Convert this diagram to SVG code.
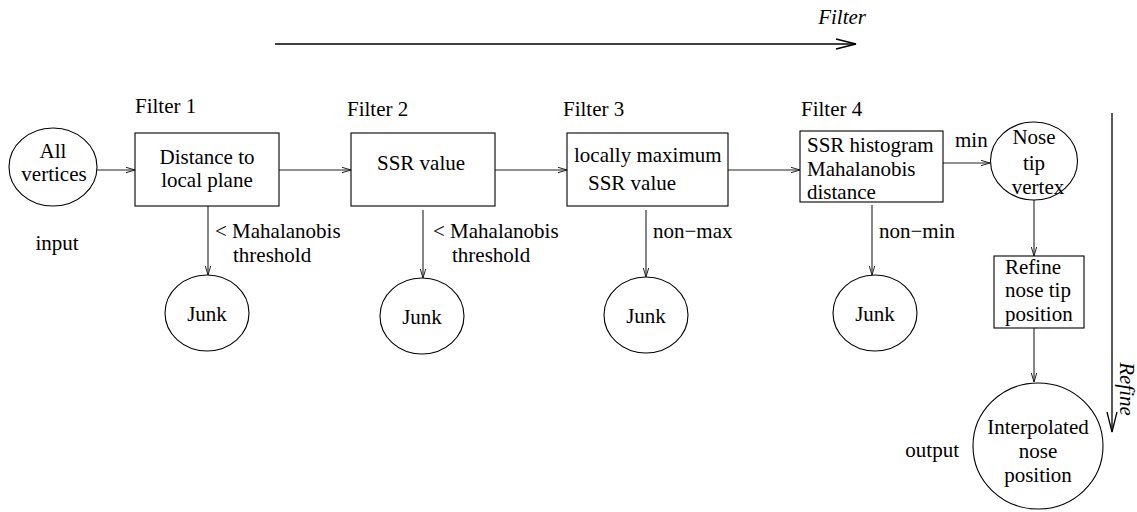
<svg xmlns="http://www.w3.org/2000/svg" width="1137" height="512" viewBox="0 0 1137 512" font-family="'Liberation Serif', 'DejaVu Serif', serif">
<style>
text{font-family:'Liberation Serif','DejaVu Serif','Times New Roman',serif;font-size:21px;fill:#000}
.c{text-anchor:middle}
.it{font-style:italic}
.shape{fill:#fff;stroke:#000;stroke-width:1.1}
.ln{fill:none;stroke:#222;stroke-width:1.1;marker-end:url(#a)}
.big{fill:none;stroke:#000;stroke-width:1.3;marker-end:url(#b)}
</style>
<defs>
<marker id="a" markerUnits="userSpaceOnUse" markerWidth="12" markerHeight="8" refX="10" refY="4" orient="auto"><path d="M1,1.3 L10,4 L1,6.7" fill="none" stroke="#222" stroke-width="1"/></marker>
<marker id="b" markerUnits="userSpaceOnUse" markerWidth="24" markerHeight="14" refX="22" refY="7" orient="auto"><path d="M2,2 L22,7 L2,12" fill="none" stroke="#000" stroke-width="1.3"/></marker>
</defs>
<rect width="1137" height="512" fill="#fff"/>

<g id="connectors">
<line class="big" x1="275" y1="44" x2="856" y2="44"/>
<line class="big" x1="1112" y1="113" x2="1112" y2="432"/>
<line class="ln" x1="97" y1="170" x2="135" y2="170"/>
<line class="ln" x1="279" y1="170" x2="351" y2="170"/>
<line class="ln" x1="495" y1="170" x2="567" y2="170"/>
<line class="ln" x1="728" y1="170" x2="800" y2="170"/>
<line class="ln" x1="943" y1="163" x2="990" y2="163"/>
<line class="ln" x1="208" y1="206" x2="208" y2="275"/>
<line class="ln" x1="423" y1="210" x2="423" y2="278"/>
<line class="ln" x1="646" y1="210" x2="646" y2="277"/>
<line class="ln" x1="872" y1="205" x2="872" y2="275"/>
<line class="ln" x1="1034" y1="200" x2="1034" y2="256"/>
<line class="ln" x1="1034" y1="328" x2="1034" y2="382"/>
<text class="it" x="866" y="24" text-anchor="end">Filter</text>
<text class="it" transform="translate(1120,389) rotate(90)" text-anchor="middle">Refine</text>
<text x="215" y="238">&lt; Mahalanobis</text>
<text x="233" y="262">threshold</text>
<text x="433" y="238">&lt; Mahalanobis</text>
<text x="452" y="262">threshold</text>
<text x="653" y="238">non−max</text>
<text x="879" y="238">non−min</text>
<text x="955" y="147">min</text>
</g>

<g id="all">
<ellipse class="shape" cx="53" cy="167" rx="44" ry="39"/>
<text class="c" x="53" y="158">All</text>
<text class="c" x="54" y="181">vertices</text>
<text class="c" x="57" y="250">input</text>
</g>

<g id="filter1">
<text x="135" y="113">Filter 1</text>
<rect class="shape" x="135" y="133" width="144" height="73"/>
<text class="c" x="207" y="164">Distance to</text>
<text class="c" x="207" y="187">local plane</text>
</g>

<g id="filter2">
<text x="347" y="116">Filter 2</text>
<rect class="shape" x="351" y="133" width="144" height="73"/>
<text class="c" x="421" y="170">SSR value</text>
</g>

<g id="filter3">
<text x="563" y="116">Filter 3</text>
<rect class="shape" x="567" y="133" width="161" height="73"/>
<text x="574" y="162">locally maximum</text>
<text x="588" y="190">SSR value</text>
</g>

<g id="filter4">
<text x="801" y="116">Filter 4</text>
<rect class="shape" x="800" y="131" width="143" height="71"/>
<text x="807" y="152">SSR histogram</text>
<text x="807" y="176">Mahalanobis</text>
<text x="807" y="199">distance</text>
</g>

<g id="junk1">
<ellipse class="shape" cx="207" cy="313" rx="42" ry="38"/>
<text class="c" x="207" y="321">Junk</text>
</g>
<g id="junk2">
<ellipse class="shape" cx="422" cy="316" rx="42" ry="38"/>
<text class="c" x="422" y="324">Junk</text>
</g>
<g id="junk3">
<ellipse class="shape" cx="646" cy="315" rx="42" ry="38"/>
<text class="c" x="646" y="323">Junk</text>
</g>
<g id="junk4">
<ellipse class="shape" cx="875" cy="313" rx="42" ry="38"/>
<text class="c" x="875" y="321">Junk</text>
</g>

<g id="nose">
<ellipse class="shape" cx="1034" cy="161" rx="43.5" ry="39"/>
<text class="c" x="1034" y="144">Nose</text>
<text class="c" x="1034" y="170">tip</text>
<text class="c" x="1038" y="194">vertex</text>
</g>

<g id="refine">
<rect class="shape" x="994" y="256" width="90" height="72"/>
<text x="1005" y="274">Refine</text>
<text x="1005" y="297">nose tip</text>
<text x="1005" y="321">position</text>
</g>

<g id="interp">
<ellipse class="shape" cx="1038" cy="446" rx="65" ry="63"/>
<text class="c" x="1038" y="434">Interpolated</text>
<text class="c" x="1038" y="458">nose</text>
<text class="c" x="1038" y="482">position</text>
<text x="959" y="457" text-anchor="end">output</text>
</g>
</svg>
